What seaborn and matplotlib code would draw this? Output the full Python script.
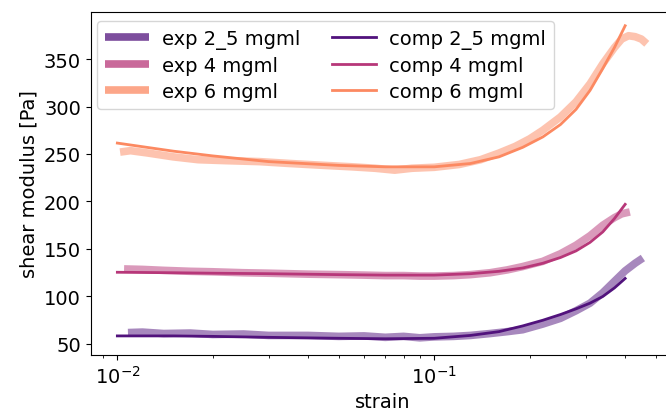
import numpy as np
import pandas as pd
import matplotlib
matplotlib.use("Agg")
import matplotlib.pyplot as plt
import seaborn as sns

# ---- data ----
labels_exp = ["exp 2_5 mgml", "exp 4 mgml", "exp 6 mgml"]
labels_comp = ["comp 2_5 mgml", "comp 4 mgml", "comp 6 mgml"]

comp_strain = [0.01, 0.015, 0.02, 0.03, 0.05, 0.07, 0.1, 0.13, 0.16, 0.19,
               0.22, 0.25, 0.28, 0.31, 0.34, 0.37, 0.40]
comp_2_5 = [58.5, 58.5, 58, 57, 56, 55.5, 56, 59, 63, 69, 75, 81, 87, 93, 100, 109, 119]
comp_4 = [125.5, 125, 124.5, 124, 123, 122.5, 122.5, 124, 126.5, 130, 135, 141, 148, 157, 168, 182, 197]
comp_6 = [261.5, 253, 248, 242, 238, 236.5, 236.5, 240, 247, 257, 268, 281, 297, 317, 340, 362, 385]

exp_2_5_strain = [0.0108, 0.012, 0.014, 0.017, 0.02, 0.025, 0.03, 0.04, 0.05, 0.06, 0.07,
                  0.08, 0.09, 0.1, 0.115, 0.13, 0.15, 0.17, 0.19, 0.22, 0.25, 0.28, 0.31,
                  0.34, 0.37, 0.40, 0.43, 0.455]
exp_2_5 = [62, 62.5, 61, 61.5, 60, 60.5, 59, 59, 58, 58.5, 57, 58, 56.5, 57.5, 58, 59,
           61, 63, 65, 71, 77, 85, 93, 104, 116, 127, 135, 140.5]

exp_4_strain = [0.0105, 0.012, 0.014, 0.017, 0.02, 0.025, 0.03, 0.04, 0.05, 0.06, 0.07,
                0.08, 0.09, 0.1, 0.115, 0.13, 0.15, 0.17, 0.19, 0.22, 0.25, 0.28, 0.31,
                0.34, 0.37, 0.39, 0.414]
exp_4 = [129, 128.5, 127.5, 126.5, 126, 125, 124.5, 123.5, 123, 122.5, 122, 122, 121.5,
         121.5, 122, 123, 125, 128, 131.5, 137, 145, 154, 164, 175, 183, 187, 189]

exp_6_strain = [0.0102, 0.011, 0.0125, 0.015, 0.018, 0.022, 0.028, 0.035, 0.045, 0.055,
                0.065, 0.075, 0.085, 0.1, 0.12, 0.14, 0.16, 0.18, 0.2, 0.22, 0.25, 0.28,
                0.31, 0.34, 0.37, 0.39, 0.41, 0.43, 0.45, 0.468]
exp_6 = [252, 253.5, 251, 247, 244, 243, 242, 240, 238, 236.5, 235, 233, 235, 236, 239,
         244, 251, 258, 266, 275, 289, 305, 324, 345, 362, 371, 374.5, 373.5, 371, 366]

colors = sns.color_palette("magma", 3)

plt.rcParams["font.size"] = 14
fig = plt.figure(figsize=(6.66, 4.14), dpi=100)
ax = fig.add_axes([90.7 / 666, 58 / 414, (674 - 90.7) / 666, (356 - 12.7) / 414])

exp_sets = [(exp_2_5_strain, exp_2_5), (exp_4_strain, exp_4), (exp_6_strain, exp_6)]
for (xs, ys), lab, c in zip(exp_sets, labels_exp, colors):
    df = pd.DataFrame({"strain": xs, "G": ys})
    sns.lineplot(data=df, x="strain", y="G", ax=ax, color=c, lw=5.5, alpha=0.5,
                 label=lab, estimator=None, sort=False, solid_capstyle="butt")

for ys, lab, c in zip([comp_2_5, comp_4, comp_6], labels_comp, colors):
    df = pd.DataFrame({"strain": comp_strain, "G": ys})
    sns.lineplot(data=df, x="strain", y="G", ax=ax, color=c, lw=2.0,
                 label=lab, estimator=None, sort=False)

ax.set_xscale("log")
ax.set_xlim(0.00824, 0.5704)
ax.set_ylim(38.4, 399.8)
ax.set_yticks([50, 100, 150, 200, 250, 300, 350])
ax.set_xlabel("strain")
ax.set_ylabel("shear modulus [Pa]")

leg = ax.legend(ncol=2, loc="upper left", bbox_to_anchor=(0.0108, 0.973),
                borderaxespad=0.0, fontsize=14, handlelength=2.3,
                handletextpad=0.65, columnspacing=1.6, labelspacing=0.37)
for h in leg.legend_handles[:3]:
    h.set_alpha(0.75)

fig.savefig("out.png", dpi=100)
